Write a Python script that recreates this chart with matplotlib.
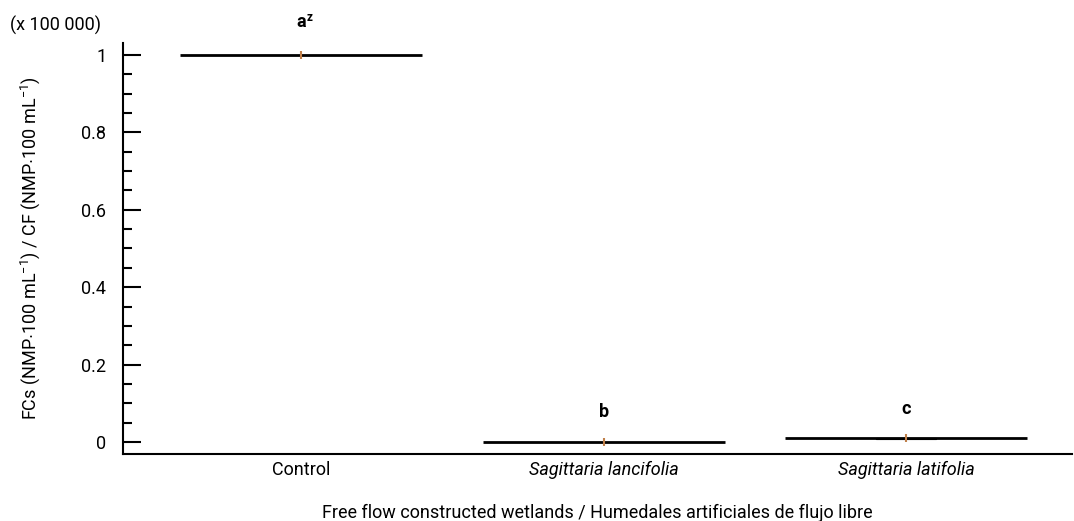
import matplotlib
matplotlib.use("Agg")
import matplotlib.pyplot as plt
from matplotlib.ticker import MultipleLocator
from matplotlib import font_manager as fm

names = {f.name for f in fm.fontManager.ttflist}
fam = "Liberation Sans Narrow" if "Liberation Sans Narrow" in names else "Roboto"
plt.rcParams['font.family'] = [fam, 'DejaVu Sans']
plt.rcParams['mathtext.fontset'] = 'custom'
plt.rcParams['mathtext.rm'] = fam
plt.rcParams['mathtext.it'] = fam + ':italic'
plt.rcParams['mathtext.bf'] = fam + ':bold'

# Data (x 100 000)
categories = ["Control", "Sagittaria lancifolia", "Sagittaria latifolia"]
italic = [False, True, True]
medians = [1.0, 0.0005, 0.0095]
q1 = [1.0, 0.0005, 0.0085]
q3 = [1.0, 0.0005, 0.0105]
letters = ["a", "b", "c"]
yticks = [0, 0.2, 0.4, 0.6, 0.8, 1]
ytick_labels = ["0", "0.2", "0.4", "0.6", "0.8", "1"]

FS = 13

fig = plt.figure(figsize=(10.74, 5.21), dpi=100)
ax = fig.add_axes([0.1145, 0.1286, 0.884, 0.789])

half = 0.40
for i, (m, a, b) in enumerate(zip(medians, q1, q3)):
    ax.hlines(m, i - half, i + half, color='black', lw=2.0, zorder=2)
    if b - a > 0:
        ax.add_patch(plt.Rectangle((i - 0.1, a), 0.2, b - a, facecolor='black',
                                   edgecolor='black', lw=0.8, zorder=2))
    ax.vlines(i, m - 0.01, m + 0.01, color='#c0804a', lw=1.5, zorder=3)

# letters
ax.text(0, 1.085, letters[0], ha='center', va='center', fontsize=FS, fontweight='bold')
ax.annotate("z", xy=(0, 1.085), xytext=(6.5, 3), textcoords='offset points',
            ha='center', va='center', fontsize=8.5, fontweight='bold',
            annotation_clip=False)
ax.text(1, medians[1] + 0.078, letters[1], ha='center', va='center', fontsize=FS, fontweight='bold')
ax.text(2, medians[2] + 0.077, letters[2], ha='center', va='center', fontsize=FS, fontweight='bold')

ax.set_xlim(-0.588, 2.549)
ax.set_ylim(-0.031, 1.031)
ax.set_yticks(yticks)
ax.set_yticklabels(ytick_labels, fontsize=FS)
ax.yaxis.set_minor_locator(MultipleLocator(0.05))
ax.tick_params(axis='y', which='major', direction='in', length=13, width=1.5, pad=12)
ax.tick_params(axis='y', which='minor', direction='in', length=6.5, width=1.5)
ax.set_xticks(range(len(categories)))
ax.set_xticklabels(categories, fontsize=FS)
for lab, it in zip(ax.get_xticklabels(), italic):
    if it:
        lab.set_fontstyle('italic')
ax.tick_params(axis='x', length=0, pad=5)

for s in ['top', 'right']:
    ax.spines[s].set_visible(False)
ax.spines['left'].set_linewidth(1.5)
ax.spines['bottom'].set_linewidth(1.5)

ax.set_ylabel(r"FCs (NMP$\cdot$100 mL$^{-1}$) / CF (NMP$\cdot$100 mL$^{-1}$)", fontsize=FS, labelpad=28)
ax.set_xlabel("Free flow constructed wetlands / Humedales artificiales de flujo libre", fontsize=FS, labelpad=18)
fig.text(0.009, 0.952, "(x 100 000)", fontsize=FS, ha='left', va='center')

fig.savefig("out.png", dpi=100)
